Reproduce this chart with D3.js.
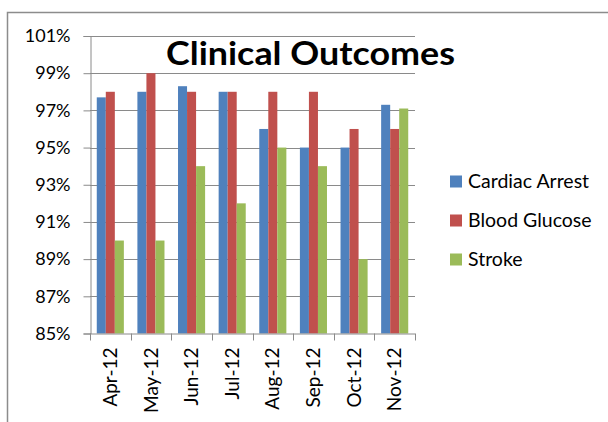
<!DOCTYPE html>
<html>
<head>
<meta charset="utf-8">
<script src="https://cdn.jsdelivr.net/npm/d3@7"></script>
<style>
  body { margin: 0; background: #fff; }
  svg { display: block; font-family: Lato, "Open Sans", sans-serif; }
</style>
</head>
<body>
<div id="chart"></div>
<script>
// Datos del gráfico
const months = ['Apr-12', 'May-12', 'Jun-12', 'Jul-12', 'Aug-12', 'Sep-12', 'Oct-12', 'Nov-12'];
const seriesNames = ['Cardiac Arrest', 'Blood Glucose', 'Stroke'];
const cardiacArrest = [97.7, 98, 98.3, 98, 96, 95, 95, 97.3];
const bloodGlucose = [98, 99, 98, 98, 98, 98, 96, 96];
const stroke = [90, 90, 94, 92, 95, 94, 89, 97.1];
const yTicks = [85, 87, 89, 91, 93, 95, 97, 99, 101];
const colors = ['#4F81BD', '#C0504D', '#9BBB59'];

const seriesValues = [cardiacArrest, bloodGlucose, stroke];

const width = 608, height = 422;
const plot = { left: 90, right: 415, top: 36, bottom: 333.5 };

const svg = d3.select('#chart').append('svg')
    .attr('width', width)
    .attr('height', height);

// Marco exterior (solo borde superior e izquierdo visibles)
svg.append('path')
    .attr('d', `M7.5,${height} V12.5 H${width}`)
    .attr('fill', 'none')
    .attr('stroke', '#8c8c8c')
    .attr('stroke-width', 1.5);

const x = d3.scaleBand().domain(months).range([plot.left, plot.right]).paddingInner(0).paddingOuter(0);
const xInner = d3.scaleBand().domain(seriesNames).range([0, x.bandwidth()]).paddingInner(0).paddingOuter(0.75);
const y = d3.scaleLinear().domain([85, 101]).range([plot.bottom, plot.top]);

// Líneas de cuadrícula
svg.append('g')
    .selectAll('line')
    .data(yTicks.filter(d => d > 85))
    .enter()
    .append('line')
    .attr('x1', plot.left)
    .attr('x2', plot.right)
    .attr('y1', d => Math.round(y(d)) + 0.5)
    .attr('y2', d => Math.round(y(d)) + 0.5)
    .attr('stroke', '#8a8a8a')
    .attr('stroke-width', 1);

// Barras
seriesNames.forEach((name, si) => {
    svg.append('g')
        .selectAll('rect')
        .data(seriesValues[si])
        .enter()
        .append('rect')
        .attr('x', (d, i) => x(months[i]) + xInner(name))
        .attr('y', d => y(d))
        .attr('width', xInner.bandwidth())
        .attr('height', d => y(85) - y(d))
        .attr('fill', colors[si]);
});

// Eje Y
const yAxis = svg.append('g')
    .attr('transform', `translate(${plot.left + 0.5},0)`)
    .call(d3.axisLeft(y).tickValues(yTicks).tickSize(7).tickPadding(13).tickFormat(d => d + '%'));
yAxis.select('.domain').attr('stroke', '#8a8a8a');
yAxis.selectAll('.tick line').attr('stroke', '#8a8a8a');
yAxis.selectAll('.tick text')
    .attr('font-size', 18)
    .attr('fill', '#000')
    .attr('font-family', 'Lato, sans-serif');

// Eje X con marcas entre categorías
const xAxisG = svg.append('g');
xAxisG.append('line')
    .attr('x1', plot.left)
    .attr('x2', plot.right)
    .attr('y1', y(85) + 0.5)
    .attr('y2', y(85) + 0.5)
    .attr('stroke', '#8a8a8a');
xAxisG.selectAll('.xtick')
    .data(months.map(m => x(m)).concat([x(months[months.length - 1]) + x.bandwidth()]))
    .enter()
    .append('line')
    .attr('x1', d => Math.round(d) + 0.5)
    .attr('x2', d => Math.round(d) + 0.5)
    .attr('y1', y(85))
    .attr('y2', y(85) + 7)
    .attr('stroke', '#8a8a8a');
xAxisG.selectAll('.xlabel')
    .data(months)
    .enter()
    .append('text')
    .attr('transform', d => `translate(${x(d) + x.bandwidth() / 2},${y(85) + 14}) rotate(-90)`)
    .attr('text-anchor', 'end')
    .attr('dy', '0.35em')
    .attr('font-size', 19)
    .attr('fill', '#000')
    .text(d => d);

// Título
svg.append('text')
    .attr('x', 310.5)
    .attr('y', 65)
    .attr('text-anchor', 'middle')
    .attr('font-size', 33)
    .attr('font-weight', 'bold')
    .attr('fill', '#000')
    .attr('textLength', 289)
    .attr('lengthAdjust', 'spacingAndGlyphs')
    .text('Clinical Outcomes');

// Leyenda
const legend = svg.append('g')
    .selectAll('g')
    .data(seriesNames)
    .enter()
    .append('g')
    .attr('transform', (d, i) => `translate(450,${181.5 + i * 39})`);
legend.append('rect')
    .attr('x', 0)
    .attr('y', -6)
    .attr('width', 12)
    .attr('height', 12)
    .attr('fill', (d, i) => colors[i]);
legend.append('text')
    .attr('x', 18)
    .attr('dy', '0.35em')
    .attr('font-size', 19.5)
    .attr('fill', '#000')
    .text(d => d);
</script>
</body>
</html>
